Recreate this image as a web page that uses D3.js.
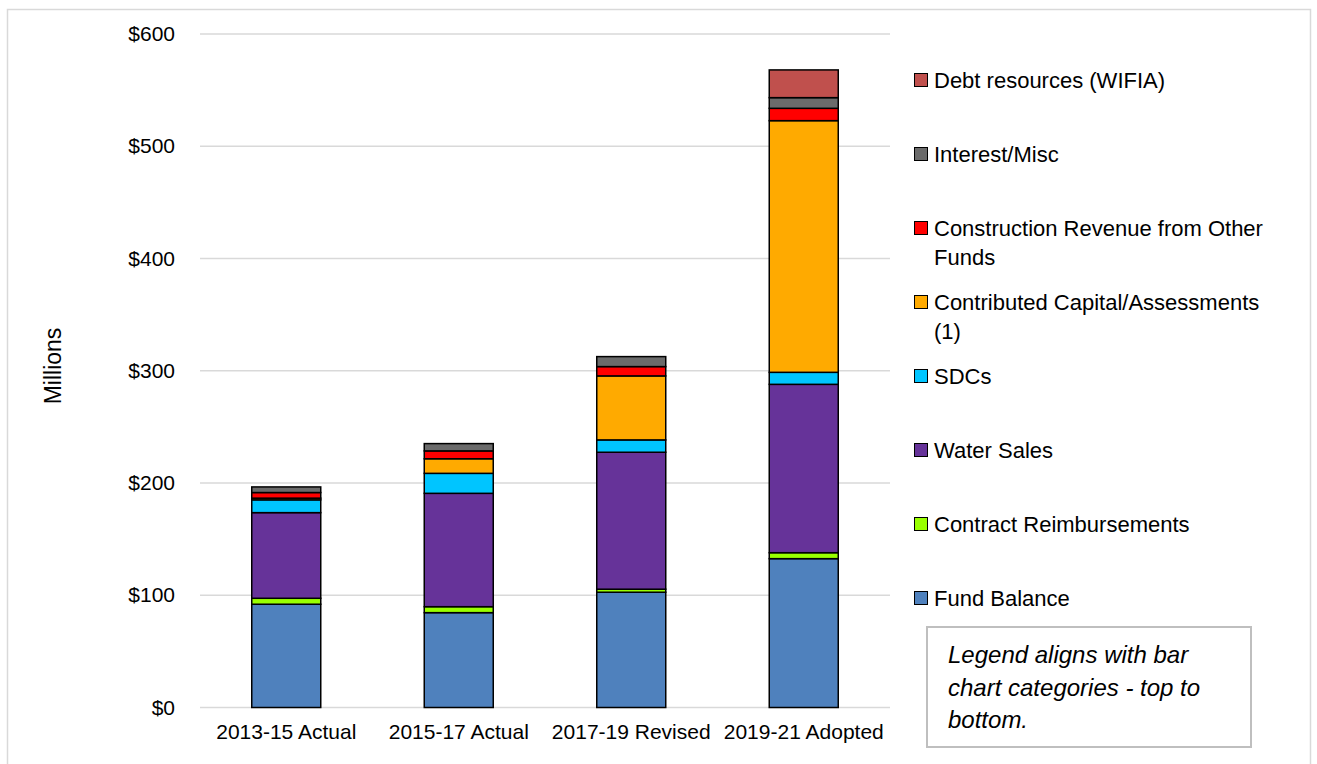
<!DOCTYPE html>
<html>
<head>
<meta charset="utf-8">
<title>Capital resources</title>
<script src="https://d3js.org/d3.v7.min.js"></script>
<style>
  body { margin: 0; background: #fff; }
  text { font-family: "Liberation Sans", Arial, sans-serif; fill: #000; }
</style>
</head>
<body>
<div id="chart"></div>
<script>
// data ($ millions)
var periods = ["2013-15 Actual", "2015-17 Actual", "2017-19 Revised", "2019-21 Adopted"];
var seriesNames = ["Fund Balance", "Contract Reimbursements", "Water Sales", "SDCs",
  "Contributed Capital/Assessments (1)", "Construction Revenue from Other Funds",
  "Interest/Misc", "Debt resources (WIFIA)"];
var fundBalance   = [92, 84.5, 102.7, 132.6];
var contractReimb = [5.3, 5.3, 2.7, 5.3];
var waterSales    = [76.3, 101, 122, 150];
var sdcs          = [11.4, 17.8, 11, 10.7];
var contributed   = [1.5, 13, 57, 224.2];
var constRevenue  = [5, 7, 8.3, 11];
var interestMisc  = [5, 6.5, 8.9, 9.5];
var debtWifia     = [0, 0, 0, 24.7];
var yTicks = [0, 100, 200, 300, 400, 500, 600];
var colors = ["#4f81bd", "#99ff00", "#663399", "#00c5ff", "#ffaa00", "#ff0000", "#6b6b6b", "#c0504d"];
// legend text lines, top to bottom of the legend
var legendLines = [
  ["Debt resources (WIFIA)"],
  ["Interest/Misc"],
  ["Construction Revenue from Other", "Funds"],
  ["Contributed Capital/Assessments", "(1)"],
  ["SDCs"],
  ["Water Sales"],
  ["Contract Reimbursements"],
  ["Fund Balance"]
];
var noteLines = ["Legend aligns with bar", "chart categories - top to", "bottom."];

var values = [fundBalance, contractReimb, waterSales, sdcs, contributed, constRevenue, interestMisc, debtWifia];

var W = 1317, H = 764;
var svg = d3.select("#chart").append("svg").attr("width", W).attr("height", H);

// outer chart frame
svg.append("rect").attr("x", 7.5).attr("y", 9.5).attr("width", 1303).attr("height", 800)
  .attr("fill", "none").attr("stroke", "#d9d9d9").attr("stroke-width", 1.5);

var x = d3.scaleBand().domain(periods).range([200, 890]).paddingInner(0.6).paddingOuter(0.3);
var y = d3.scaleLinear().domain([0, 600]).range([707.5, 34]);

// gridlines
svg.append("g").selectAll("line").data(yTicks).join("line")
  .attr("x1", 200).attr("x2", 890)
  .attr("y1", function(d) { return y(d); }).attr("y2", function(d) { return y(d); })
  .attr("stroke", "#d9d9d9").attr("stroke-width", 1.5);

// y axis labels
var yAxis = d3.axisLeft(y).tickValues(yTicks).tickSize(0).tickPadding(0)
  .tickFormat(function(d) { return "$" + d; });
var ya = svg.append("g").attr("transform", "translate(175,0)").call(yAxis);
ya.select(".domain").remove();
ya.selectAll("text").style("font-size", "21px").attr("fill", "#000")
  .style("font-family", "Liberation Sans, Arial, sans-serif");

// x axis labels
var xAxis = d3.axisBottom(x).tickSize(0).tickPadding(0);
var xa = svg.append("g").attr("transform", "translate(0,724)").call(xAxis);
xa.select(".domain").remove();
xa.selectAll("text").style("font-size", "21px").attr("fill", "#000")
  .style("font-family", "Liberation Sans, Arial, sans-serif");

svg.append("text").attr("transform", "translate(61,366) rotate(-90)")
  .attr("text-anchor", "middle").style("font-size", "23px").text("Millions");

// stacked bars
var table = periods.map(function(p, i) {
  var row = { period: p };
  seriesNames.forEach(function(s, j) { row[s] = values[j][i]; });
  return row;
});
var stack = d3.stack().keys(seriesNames)(table);

svg.append("g").selectAll("g").data(stack).join("g")
  .attr("fill", function(d, i) { return colors[i]; })
  .selectAll("rect").data(function(d) { return d.filter(function(e) { return e[1] - e[0] > 0; }); })
  .join("rect")
  .attr("x", function(d) { return x(d.data.period); })
  .attr("width", x.bandwidth())
  .attr("y", function(d) { return y(d[1]); })
  .attr("height", function(d) { return y(d[0]) - y(d[1]); })
  .attr("stroke", "#000").attr("stroke-width", 1.5);

// legend
var lg = svg.append("g").selectAll("g").data(legendLines).join("g")
  .attr("transform", function(d, i) { return "translate(914," + (80 + i * 74) + ")"; });
lg.append("rect").attr("x", 0.5).attr("y", -6.5).attr("width", 13).attr("height", 13)
  .attr("fill", function(d, i) { return colors[colors.length - 1 - i]; })
  .attr("stroke", "#000").attr("stroke-width", 1);
lg.each(function(lines) {
  var g = d3.select(this);
  lines.forEach(function(t, k) {
    g.append("text").attr("x", 20).attr("y", 8 + k * 29).style("font-size", "22px").text(t);
  });
});

// note box
svg.append("rect").attr("x", 927).attr("y", 627).attr("width", 324).attr("height", 120)
  .attr("fill", "#fff").attr("stroke", "#bfbfbf").attr("stroke-width", 2);
svg.append("g").selectAll("text").data(noteLines).join("text")
  .attr("x", 948).attr("y", function(d, i) { return 663 + i * 32.5; })
  .style("font-size", "24px").style("font-style", "italic").text(function(d) { return d; });
</script>
</body>
</html>
